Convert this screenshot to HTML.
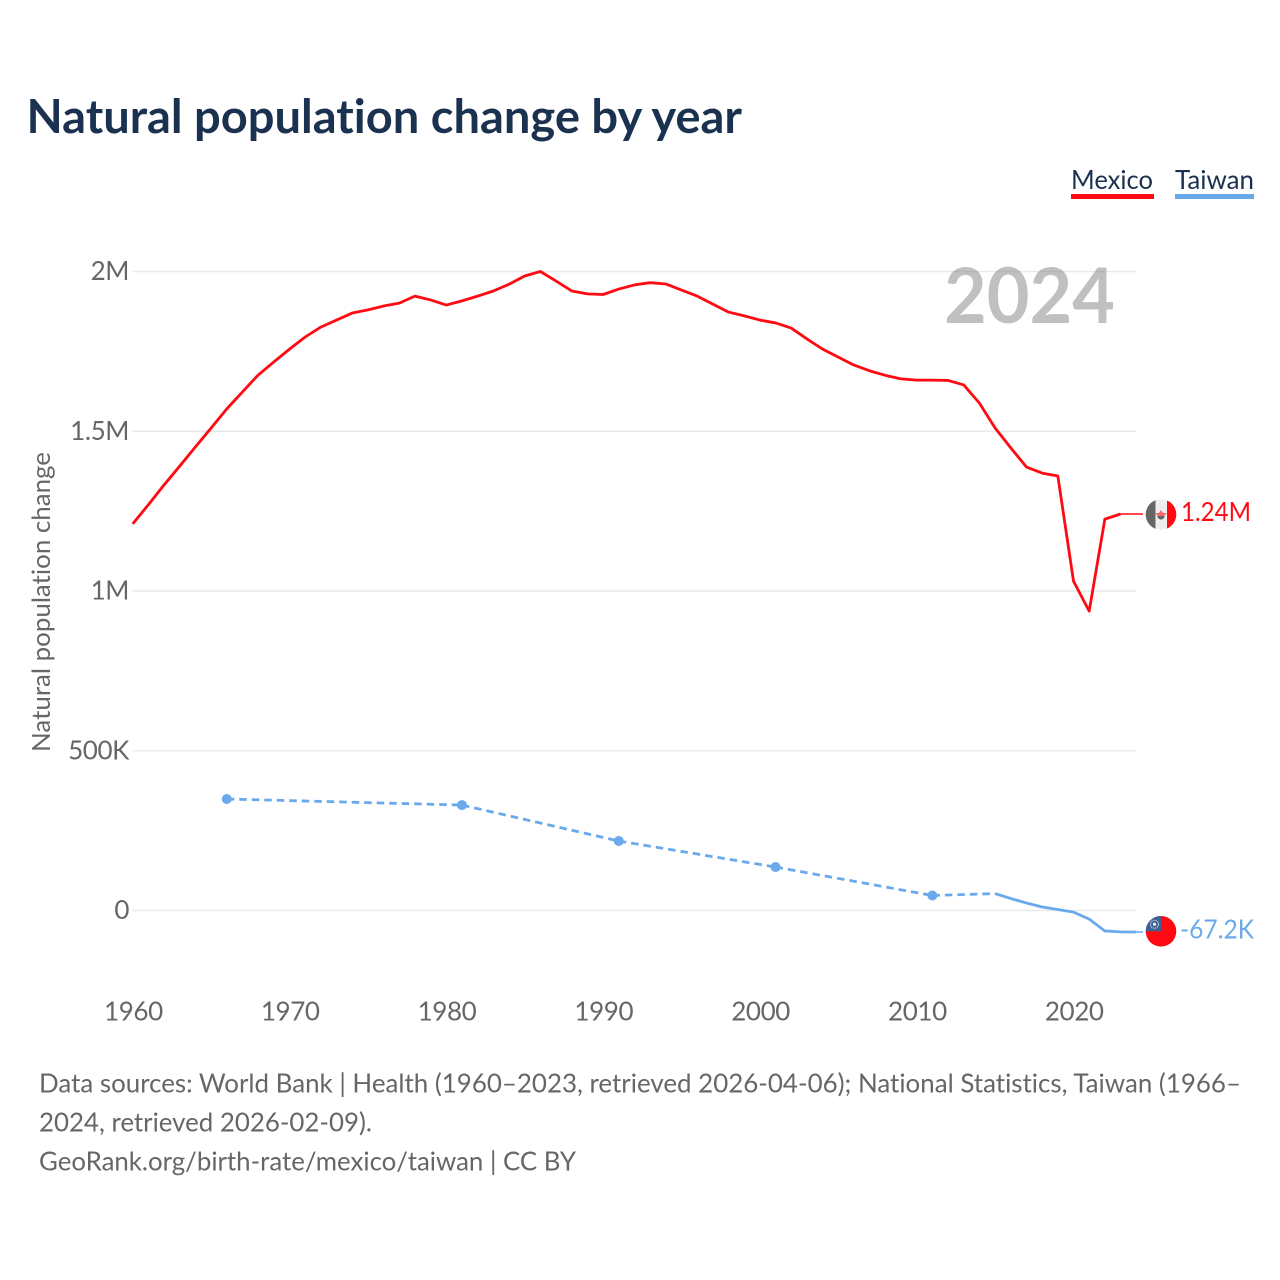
<!DOCTYPE html>
<html lang="en">
<head>
<meta charset="utf-8">
<title>Natural population change by year</title>
<style>
html,body{margin:0;padding:0;background:#fff;}
svg{display:block;font-family:"Lato","Carlito","Liberation Sans",sans-serif;font-variant-ligatures:none;font-feature-settings:"liga" 0;}
</style>
</head>
<body>
<svg id="chart" width="1280" height="1280" viewBox="0 0 1280 1280" xmlns="http://www.w3.org/2000/svg">
  <defs>
    <clipPath id="clip-mx"><circle id="clip-mx-c" r="15.3"></circle></clipPath>
    <clipPath id="clip-tw"><circle id="clip-tw-c" r="15.3"></circle></clipPath>
  </defs>
  <rect width="1280" height="1280" fill="#fff"/>
  <text x="26.5" y="133" font-size="47" font-weight="700" fill="#1a3150" textLength="715.5" lengthAdjust="spacingAndGlyphs">Natural population change by year</text>
  <g>
    <g>
      <text x="1071" y="189" font-size="26.5" fill="#1a3150" textLength="82" lengthAdjust="spacingAndGlyphs">Mexico</text>
      <rect x="1071" y="194" width="83" height="5" fill="#ff0a12"/>
    </g>
    <g>
      <text x="1175" y="189" font-size="26.5" fill="#1a3150" textLength="79" lengthAdjust="spacingAndGlyphs">Taiwan</text>
      <rect x="1175" y="194" width="79" height="5" fill="#6aa9ec"/>
    </g>
  </g>
  <text transform="translate(50,752) rotate(-90)" font-size="25" fill="#666" textLength="300" lengthAdjust="spacingAndGlyphs">Natural population change</text>
  <g id="grid"></g>
  <text x="944" y="323" font-size="77" font-weight="700" fill="#7f8484" fill-opacity="0.5" textLength="171" lengthAdjust="spacingAndGlyphs">2024</text>
  <g id="yticks"></g>
  <g id="xticks"></g>
  <g id="series"></g>
  <g id="flags"></g>
  <g font-size="26" fill="#666">
    <text x="39" y="1092.5" textLength="1202" lengthAdjust="spacingAndGlyphs">Data sources: World Bank | Health (1960–2023, retrieved 2026-04-06); National Statistics, Taiwan (1966–</text>
    <text x="39" y="1131.5" textLength="333" lengthAdjust="spacingAndGlyphs">2024, retrieved 2026-02-09).</text>
    <text x="39" y="1170.5" textLength="537" lengthAdjust="spacingAndGlyphs">GeoRank.org/birth-rate/mexico/taiwan | CC BY</text>
  </g>
</svg>
<script>
const xTickYears = [1960, 1970, 1980, 1990, 2000, 2010, 2020];
const yTickValues = [0, 500000, 1000000, 1500000, 2000000];
const yTickLabels = ["0", "500K", "1M", "1.5M", "2M"];

const mexicoYears = [1960,1961,1962,1963,1964,1965,1966,1967,1968,1969,1970,1971,1972,1973,1974,1975,1976,1977,1978,1979,1980,1981,1982,1983,1984,1985,1986,1987,1988,1989,1990,1991,1992,1993,1994,1995,1996,1997,1998,1999,2000,2001,2002,2003,2004,2005,2006,2007,2008,2009,2010,2011,2012,2013,2014,2015,2016,2017,2018,2019,2020,2021,2022,2023];
const mexicoValues = [1210000,1270000,1332000,1391000,1451000,1510000,1570000,1623000,1676000,1717000,1757000,1795000,1826000,1848000,1870000,1880000,1892000,1901000,1923000,1911000,1895000,1908000,1923000,1939000,1960000,1986000,2000000,1970000,1939000,1930000,1928000,1945000,1958000,1965000,1961000,1942000,1923000,1898000,1873000,1861000,1848000,1839000,1823000,1789000,1757000,1732000,1707000,1689000,1675000,1664000,1660000,1660000,1659000,1645000,1588000,1510000,1448000,1388000,1369000,1360000,1031000,937000,1225000,1241000];
const mexicoLabel = "1.24M";

const taiwanYears = [1966,1981,1991,2001,2011,2015,2016,2017,2018,2019,2020,2021,2022,2023,2024];
const taiwanValues = [349000,330000,217500,136000,47000,53000,37500,23500,11000,3000,-5000,-27000,-64000,-67000,-67200];
const taiwanLabel = "-67.2K";

const svgNS = "http://www.w3.org/2000/svg";
const x0 = 132.7, pxPerYear = 15.68, y0 = 910.5, pxPerUnit = 319.5 / 1000000;
const x0Year = 1960;
const flagX = 1161;
function xScale(year) { return x0 + (year - x0Year) * pxPerYear; }
function yScale(v) { return y0 - v * pxPerUnit; }
function mk(tag, attrs, parent) {
  const el = document.createElementNS(svgNS, tag);
  for (const k in attrs) el.setAttribute(k, attrs[k]);
  parent.appendChild(el);
  return el;
}
const grid = document.getElementById("grid");
const yticks = document.getElementById("yticks");
const xticks = document.getElementById("xticks");
const series = document.getElementById("series");
const flags = document.getElementById("flags");

yTickValues.forEach(function (v, i) {
  const line = mk("line", {x1: x0, x2: 1136, y1: yScale(v), y2: yScale(v), stroke: "#e9e9e9", "stroke-width": 1.6}, grid);
  
  
  const t = mk("text", {x: 129, y: yScale(v) + 8.5, "text-anchor": "end", "font-size": 26, fill: "#666", "letter-spacing": "-0.4"}, yticks);
  
  
  t.textContent = yTickLabels[i];
});
xTickYears.forEach(function (yr) {
  const t = mk("text", {x: xScale(yr) + 0.7, y: 1020.5, "text-anchor": "middle", "font-size": 26, fill: "#666", "letter-spacing": "-0.4"}, xticks);
  
  
  t.textContent = yr;
});

function drawSeries(years, values, color, name) {
  let run = [];
  function flush() {
    if (run.length > 1) {
      const pl = mk("polyline", {points: run.join(" "), fill: "none", stroke: color, "stroke-width": 2.8, "stroke-linejoin": "round"}, series);
      
      
    }
    run = [];
  }
  for (let i = 0; i < years.length; i++) {
    run.push(xScale(years[i]) + "," + yScale(values[i]));
    if (i < years.length - 1 && years[i + 1] - years[i] > 1) {
      flush();
      const d = mk("line", {x1: xScale(years[i]), y1: yScale(values[i]), x2: xScale(years[i + 1]), y2: yScale(values[i + 1]), stroke: color, "stroke-width": 2.8, "stroke-dasharray": "7.5 5"}, series);
      
      
    }
  }
  flush();
  for (let i = 0; i < years.length; i++) {
    const prevGap = i === 0 || years[i] - years[i - 1] > 1;
    const nextGap = i === years.length - 1 || years[i + 1] - years[i] > 1;
    if (prevGap && nextGap) {
      const c = mk("circle", {cx: xScale(years[i]), cy: yScale(values[i]), r: 5, fill: color}, series);
      
      
    }
  }
  const lastX = xScale(years[years.length - 1]);
  const lastY = yScale(values[values.length - 1]);
  const leader = mk("line", {x1: lastX, y1: lastY, x2: flagX - 18, y2: lastY, stroke: color, "stroke-width": 1.6}, series);
  
  
  return lastY;
}

const mxY = drawSeries(mexicoYears, mexicoValues, "#ff0a12", "mexico") + 0.5;
const twY = drawSeries(taiwanYears, taiwanValues, "#6aa9ec", "taiwan") - 0.7;

/* Mexico flag */
document.getElementById("clip-mx-c").setAttribute("cx", flagX);
document.getElementById("clip-mx-c").setAttribute("cy", mxY);
const mxFlag = mk("g", {"clip-path": "url(#clip-mx)"}, flags);


mk("rect", {x: flagX - 16, y: mxY - 16, width: 10.5, height: 32, fill: "#666"}, mxFlag);
mk("rect", {x: flagX - 5.5, y: mxY - 16, width: 11.5, height: 32, fill: "#eeeeee"}, mxFlag);
mk("rect", {x: flagX + 6, y: mxY - 16, width: 10, height: 32, fill: "#ff0a12"}, mxFlag);
mk("circle", {cx: flagX, cy: mxY + 1.5, r: 3.6, fill: "#666"}, mxFlag);
mk("path", {d: "M" + (flagX - 5.5) + " " + (mxY - 1.5) + "h11l-2 3h-7z M" + (flagX - 2) + " " + (mxY - 1.5) + "l2 -3l2 3z", fill: "#f76a6a"}, mxFlag);
const mxText = mk("text", {x: 1181, y: mxY + 6.5, "font-size": 26, fill: "#ff0a12", textLength: 70, lengthAdjust: "spacingAndGlyphs"}, flags);


mxText.textContent = mexicoLabel;

/* Taiwan flag */
document.getElementById("clip-tw-c").setAttribute("cx", flagX);
document.getElementById("clip-tw-c").setAttribute("cy", twY);
const twFlag = mk("g", {"clip-path": "url(#clip-tw)"}, flags);


mk("rect", {x: flagX - 16, y: twY - 16, width: 32, height: 32, fill: "#ff0a12"}, twFlag);
mk("rect", {x: flagX - 16, y: twY - 16, width: 16, height: 16, fill: "#3f6294"}, twFlag);
mk("circle", {cx: flagX - 6.5, cy: twY - 7, r: 4, fill: "none", stroke: "#e8eef6", "stroke-width": 1, "stroke-dasharray": "1.2 1"}, twFlag);
mk("circle", {cx: flagX - 6.5, cy: twY - 7, r: 1.6, fill: "#e8eef6"}, twFlag);
const twText = mk("text", {x: 1180, y: twY + 7, "font-size": 26, fill: "#6aa9ec", textLength: 74, lengthAdjust: "spacingAndGlyphs"}, flags);


twText.textContent = taiwanLabel;
</script>
</body>
</html>
